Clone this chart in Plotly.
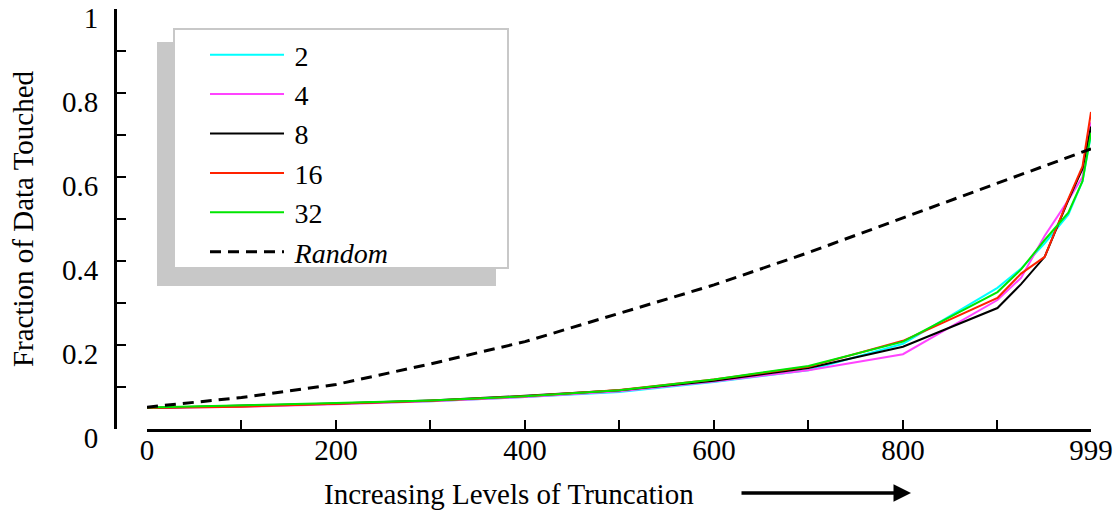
import plotly.graph_objects as go

# ---- data ----
levels = [0, 100, 200, 300, 400, 500, 600, 700, 800, 900, 925, 950, 975, 990, 999]
s2 =  [0.050, 0.054, 0.060, 0.066, 0.076, 0.088, 0.112, 0.140, 0.203, 0.336, 0.382, 0.442, 0.510, 0.590, 0.700]
s4 =  [0.050, 0.053, 0.059, 0.066, 0.076, 0.090, 0.113, 0.140, 0.178, 0.307, 0.360, 0.460, 0.545, 0.600, 0.730]
s8 =  [0.050, 0.055, 0.061, 0.068, 0.079, 0.092, 0.115, 0.145, 0.196, 0.288, 0.345, 0.410, 0.545, 0.620, 0.720]
s16 = [0.050, 0.053, 0.060, 0.067, 0.078, 0.093, 0.118, 0.148, 0.210, 0.312, 0.370, 0.410, 0.548, 0.625, 0.755]
s32 = [0.051, 0.056, 0.062, 0.068, 0.078, 0.092, 0.118, 0.150, 0.208, 0.326, 0.380, 0.450, 0.515, 0.590, 0.705]
rand_levels = [0, 100, 200, 300, 400, 500, 600, 700, 800, 925, 999]
rand_vals = [0.052, 0.075, 0.106, 0.155, 0.208, 0.276, 0.343, 0.420, 0.502, 0.606, 0.667]

names = ["2", "4", "8", "16", "32"]
series = [s2, s4, s8, s16, s32]
colors = ["#00FFFF", "#FF44FF", "#000000", "#FF2200", "#00E600"]

x_ticks = [0, 200, 400, 600, 800, 999]
x_minor = [100, 300, 500, 700, 900]
y_ticks = [0, 0.2, 0.4, 0.6, 0.8, 1]
y_ticktext = ["0", "0.2", "0.4", "0.6", "0.8", "1"]

FONT = "Liberation Serif"
FS = 29
SP = "\u2009"  # small gap between legend line sample and its label

fig = go.Figure()
for n, s, c in zip(names, series, colors):
    fig.add_trace(go.Scatter(x=levels, y=s, mode="lines", name=SP + n,
                             line=dict(color=c, width=2), legendgroup=n))
fig.add_trace(go.Scatter(x=rand_levels, y=rand_vals, mode="lines",
                         name=SP + "<i>Random</i>",
                         line=dict(color="black", width=3, dash="11px,7px"), legendgroup="r"))

W, H = 1118, 512
L, T, B, R = 115, 9, 512 - 429, 1118 - 1091
PW, PH = W - L - R, H - T - B


def px(x):
    return (x - L) / PW


def py(y):
    return (H - B - y) / PH


fig.update_layout(
    width=W, height=H,
    margin=dict(l=L, r=R, t=T, b=B, autoexpand=False),
    paper_bgcolor="white", plot_bgcolor="white",
    font=dict(family=FONT, size=FS, color="black"),
    showlegend=True,
    legend=dict(x=px(205), y=py(30), xanchor="left", yanchor="top",
                bgcolor="rgba(0,0,0,0)", borderwidth=0,
                font=dict(family=FONT, size=28), itemwidth=74,
                tracegroupgap=0),
    xaxis=dict(domain=[32 / PW, 1], range=[0, 999], showline=True, linecolor="black",
               linewidth=3, ticks="inside", ticklen=9, tickwidth=2, tickcolor="black",
               tickvals=x_ticks, ticktext=[str(v) for v in x_ticks],
               minor=dict(tickvals=x_minor, ticks="inside", ticklen=9, tickwidth=2,
                          tickcolor="black"),
               showgrid=False, zeroline=False, ticklabelstandoff=-7,
               tickfont=dict(family=FONT, size=FS)),
    yaxis=dict(domain=[0, 1], range=[0, 1], anchor="free", position=0, showline=True,
               linecolor="black", linewidth=3, ticks="inside", ticklen=9, tickwidth=2,
               tickcolor="black", tickvals=y_ticks, ticktext=y_ticktext,
               minor=dict(dtick=0.1, ticks="inside", ticklen=9, tickwidth=2,
                          tickcolor="black"),
               showgrid=False, zeroline=False, ticklabelstandoff=10, ticklabelshift=9,
               tickfont=dict(family=FONT, size=FS),
               title=dict(text="Fraction of Data Touched", standoff=18,
                          font=dict(family=FONT, size=FS))),
    shapes=[
        dict(type="rect", xref="paper", yref="paper", x0=px(157), x1=px(496),
             y0=py(286), y1=py(42), fillcolor="#C8C8C8", line=dict(width=0), layer="above"),
        dict(type="rect", xref="paper", yref="paper", x0=px(174), x1=px(508),
             y0=py(268), y1=py(29), fillcolor="white", line=dict(color="#C8C8C8", width=2),
             layer="above"),
    ],
    annotations=[
        dict(text="Increasing Levels of Truncation", xref="paper", yref="paper",
             x=px(322), y=py(494), xanchor="left", yanchor="middle", showarrow=False,
             font=dict(family=FONT, size=FS)),
        dict(text="", xref="paper", yref="paper", x=px(911), y=py(493), ax=-171, ay=0,
             axref="pixel", ayref="pixel", showarrow=True, arrowhead=2, arrowsize=1,
             arrowwidth=3.5, arrowcolor="black"),
    ],
)

fig.write_html(
    "out.html",
    config={"displayModeBar": False},
    post_script="document.body.style.margin='0';document.body.style.overflow='hidden';",
)
